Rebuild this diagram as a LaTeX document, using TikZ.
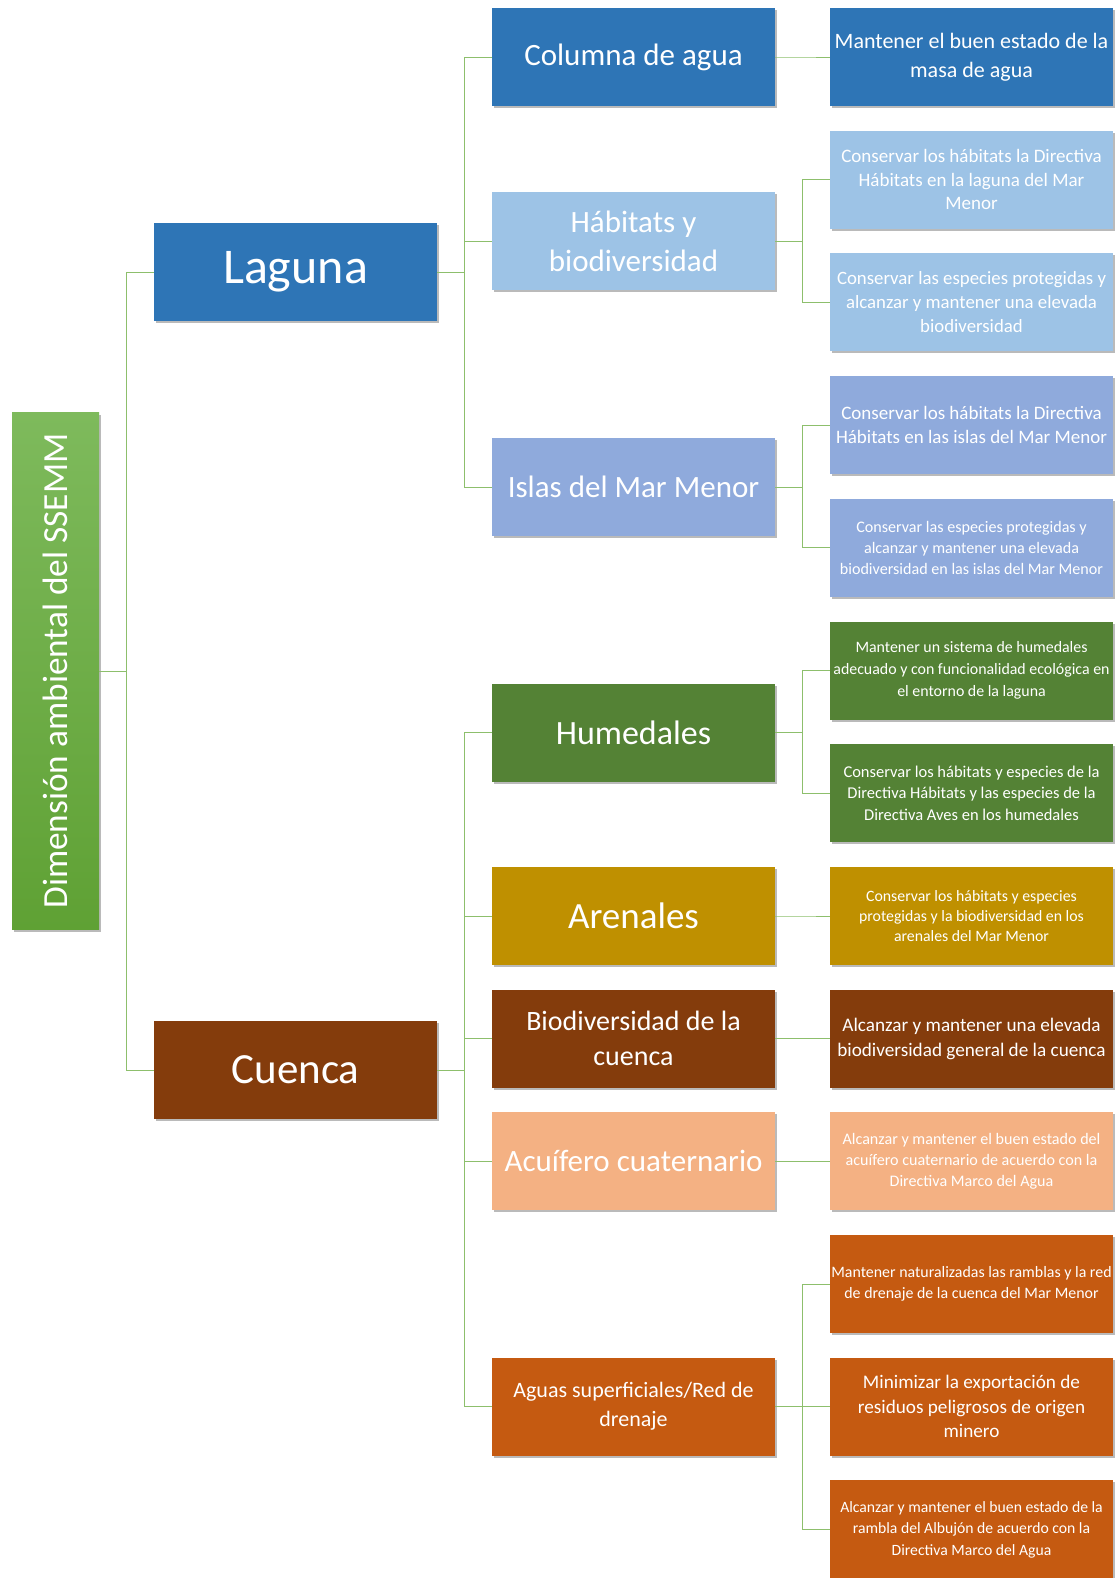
\documentclass[tikz,border=0pt]{standalone}
\usepackage{fontspec}
\setmainfont{Carlito}
\usetikzlibrary{shadows}
\definecolor{azul}{HTML}{2E75B6}
\definecolor{celeste}{HTML}{9DC3E6}
\definecolor{lavanda}{HTML}{8FAADC}
\definecolor{verde}{HTML}{548235}
\definecolor{ocre}{HTML}{BF9000}
\definecolor{marron}{HTML}{843C0C}
\definecolor{salmon}{HTML}{F4B183}
\definecolor{naranja}{HTML}{C55A11}
\definecolor{verdelinea}{HTML}{8DBF6C}
\definecolor{verdearriba}{HTML}{7EBA5C}
\definecolor{verdeabajo}{HTML}{5FA134}
\newcommand{\fsz}[2]{\fontsize{#1}{#2}\selectfont}

\begin{document}
\begin{tikzpicture}[x=1pt,y=-1pt]
\tikzset{caja/.style={minimum width=283pt, minimum height=98pt, inner sep=1pt,
    text=white, align=center,
    drop shadow={shadow xshift=1.5pt, shadow yshift=-2pt, fill=black!45, opacity=.6}}}
\tikzset{enlace/.style={draw=verdelinea, line width=0.9pt}}
\path[use as bounding box, fill=white] (0,0) rectangle (1116,1578);

\node[caja, minimum width=87pt, minimum height=517pt, top color=verdearriba, bottom color=verdeabajo]
  (raiz) at (55.5,671) {\rotatebox{90}{\fsz{35.3}{42}Dimensión ambiental del SSEMM}};

\node[caja, fill=azul, font=\fsz{50}{60}] (laguna) at (295.5,272) {Laguna};
\node[caja, fill=marron, font=\fsz{43}{52}] (cuenca) at (295.5,1070) {Cuenca};

\node[caja, fill=azul, font=\fsz{31}{38}] (columna) at (633.5,57) {Columna de agua};
\node[caja, fill=celeste, font=\fsz{31}{39}] (habitats) at (633.5,241.5) {Hábitats y\\biodiversidad};
\node[caja, fill=lavanda, font=\fsz{31}{38}] (islas) at (633.5,487) {Islas del Mar Menor};
\node[caja, fill=verde, font=\fsz{34}{40}] (humedales) at (633.5,732.5) {Humedales};
\node[caja, fill=ocre, font=\fsz{37}{42}] (arenales) at (633.5,916) {Arenales};
\node[caja, fill=marron, font=\fsz{28}{35}] (biocuenca) at (633.5,1038.6) {Biodiversidad de la\\cuenca};
\node[caja, fill=salmon, font=\fsz{31}{38}] (acuifero) at (633.5,1161.3) {Acuífero cuaternario};
\node[caja, fill=naranja, font=\fsz{22}{29}] (aguas) at (633.5,1406.7) {Aguas superficiales/Red de\\drenaje};

\node[caja, fill=azul, font=\fsz{22}{29}] (masa) at (971.5,57) {Mantener el buen estado de la\\masa de agua};
\node[caja, fill=celeste, font=\fsz{19}{23.5}] (hablaguna) at (971.5,179.7) {Conservar los hábitats la Directiva\\Hábitats en la laguna del Mar\\Menor};
\node[caja, fill=celeste, font=\fsz{18.8}{24}] (esplaguna) at (971.5,302.4) {Conservar las especies protegidas y\\alcanzar y mantener una elevada\\biodiversidad};
\node[caja, fill=lavanda, font=\fsz{19}{24}] (habislas) at (971.5,425.1) {Conservar los hábitats la Directiva\\Hábitats en las islas del Mar Menor};
\node[caja, fill=lavanda, font=\fsz{16.1}{21}] (espislas) at (971.5,547.8) {Conservar las especies protegidas y\\alcanzar y mantener una elevada\\biodiversidad en las islas del Mar Menor};
\node[caja, fill=verde, font=\fsz{15.9}{22}] (sistema) at (971.5,670.5) {Mantener un sistema de humedales\\adecuado y con funcionalidad ecológica en\\el entorno de la laguna};
\node[caja, fill=verde, font=\fsz{16.5}{21.5}] (aves) at (971.5,793.2) {Conservar los hábitats y especies de la\\Directiva Hábitats y las especies de la\\Directiva Aves en los humedales};
\node[caja, fill=ocre, font=\fsz{15.8}{20}] (objarenales) at (971.5,916) {Conservar los hábitats y especies\\protegidas y la biodiversidad en los\\arenales del Mar Menor};
\node[caja, fill=marron, font=\fsz{19.2}{25}] (objcuenca) at (971.5,1038.6) {Alcanzar y mantener una elevada\\biodiversidad general de la cuenca};
\node[caja, fill=salmon, font=\fsz{16.1}{21}] (objacuifero) at (971.5,1161.3) {Alcanzar y mantener el buen estado del\\acuífero cuaternario de acuerdo con la\\Directiva Marco del Agua};
\node[caja, fill=naranja, font=\fsz{15.9}{21}] (ramblas) at (971.5,1284) {Mantener naturalizadas las ramblas y la red\\de drenaje de la cuenca del Mar Menor};
\node[caja, fill=naranja, font=\fsz{19.2}{24.5}] (minero) at (971.5,1406.7) {Minimizar la exportación de\\residuos peligrosos de origen\\minero};
\node[caja, fill=naranja, font=\fsz{15.7}{21.5}] (albujon) at (971.5,1529.4) {Alcanzar y mantener el buen estado de la\\rambla del Albujón de acuerdo con la\\Directiva Marco del Agua};

\foreach \padre/\hijo in {raiz/laguna, raiz/cuenca,
    laguna/columna, laguna/habitats, laguna/islas,
    cuenca/humedales, cuenca/arenales, cuenca/biocuenca, cuenca/acuifero, cuenca/aguas,
    columna/masa, habitats/hablaguna, habitats/esplaguna, islas/habislas, islas/espislas,
    humedales/sistema, humedales/aves, arenales/objarenales, biocuenca/objcuenca,
    acuifero/objacuifero, aguas/ramblas, aguas/minero, aguas/albujon}
  \draw[enlace] (\padre.east) -- ++(27.5,0) |- (\hijo.west);
\end{tikzpicture}
\end{document}
